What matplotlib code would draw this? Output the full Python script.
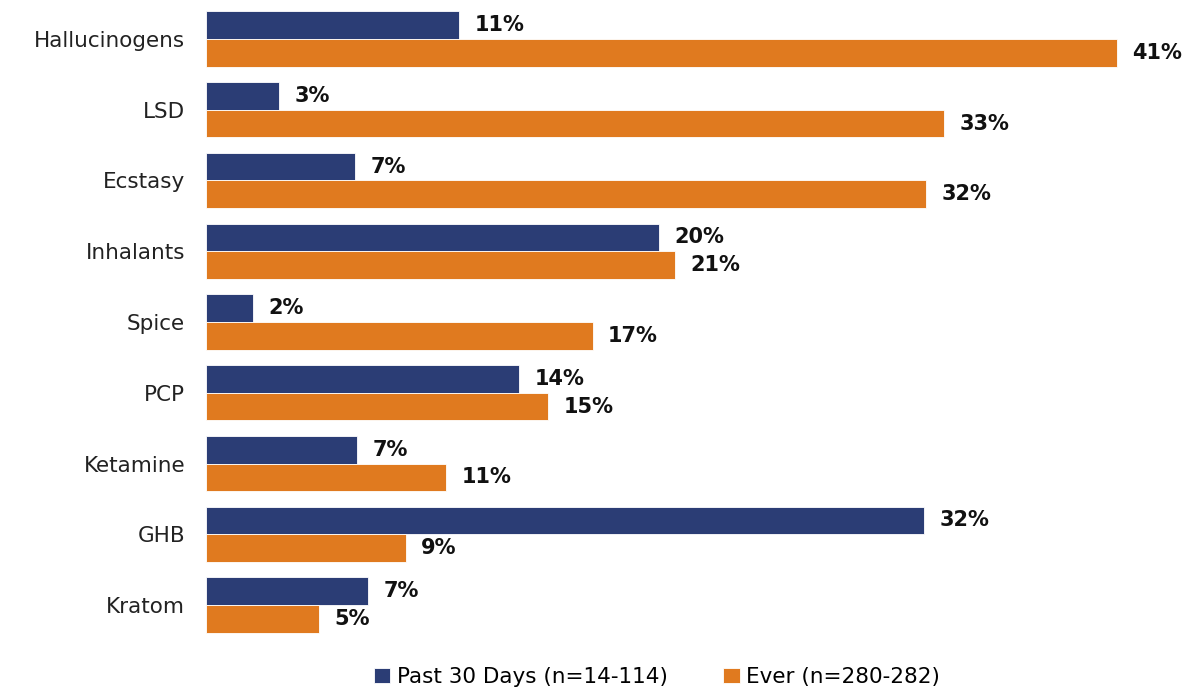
import numpy as np
from matplotlib import pyplot as plt

plt.rcParams['font.family'] = ['DejaVu Sans']

CATEGORIES = ["Hallucinogens", "LSD", "Ecstasy", "Inhalants", "Spice",
              "PCP", "Ketamine", "GHB", "Kratom"]
PAST_30 = [11.4, 3.3, 6.7, 20.4, 2.1, 14.1, 6.8, 32.3, 7.3]
EVER = [41.0, 33.2, 32.4, 21.1, 17.4, 15.4, 10.8, 9.0, 5.1]
SERIES_NAMES = ["Past 30 Days (n=14-114)", "Ever (n=280-282)"]

NAVY = "#2b3d75"
ORANGE = "#e07a1f"

fig = plt.figure(figsize=(11.84, 6.89), dpi=100)
ax = fig.add_axes([206 / 1184, 44 / 689, 978 / 1184, 645 / 689])

y = np.arange(len(CATEGORIES))
h = 0.39
b1 = ax.barh(y - h / 2, PAST_30, height=h, color=NAVY, edgecolor="white",
             linewidth=0.6, label=SERIES_NAMES[0])
b2 = ax.barh(y + h / 2, EVER, height=h, color=ORANGE, edgecolor="white",
             linewidth=0.6, label=SERIES_NAMES[1])

for bars in (b1, b2):
    ax.bar_label(bars, labels=['{:.0f}%'.format(v) for v in bars.datavalues],
                 padding=11, fontsize=15, fontweight='bold', color='#111111')

ax.set_xlim(0, 44)
ax.set_ylim(8.565, -0.551)
ax.set_yticks(y)
ax.set_yticklabels(CATEGORIES, fontsize=15.5, color='#222222')
ax.tick_params(axis='y', length=0, pad=15)
ax.set_xticks([])
for s in ax.spines.values():
    s.set_visible(False)

fig.legend(loc='center', bbox_to_anchor=(657 / 1184, 12 / 689), ncol=2,
           frameon=False, fontsize=15.5, handlelength=0.75, handleheight=0.75,
           handletextpad=0.3, columnspacing=2.6, borderaxespad=0)

fig.savefig("out.png", dpi=100)
